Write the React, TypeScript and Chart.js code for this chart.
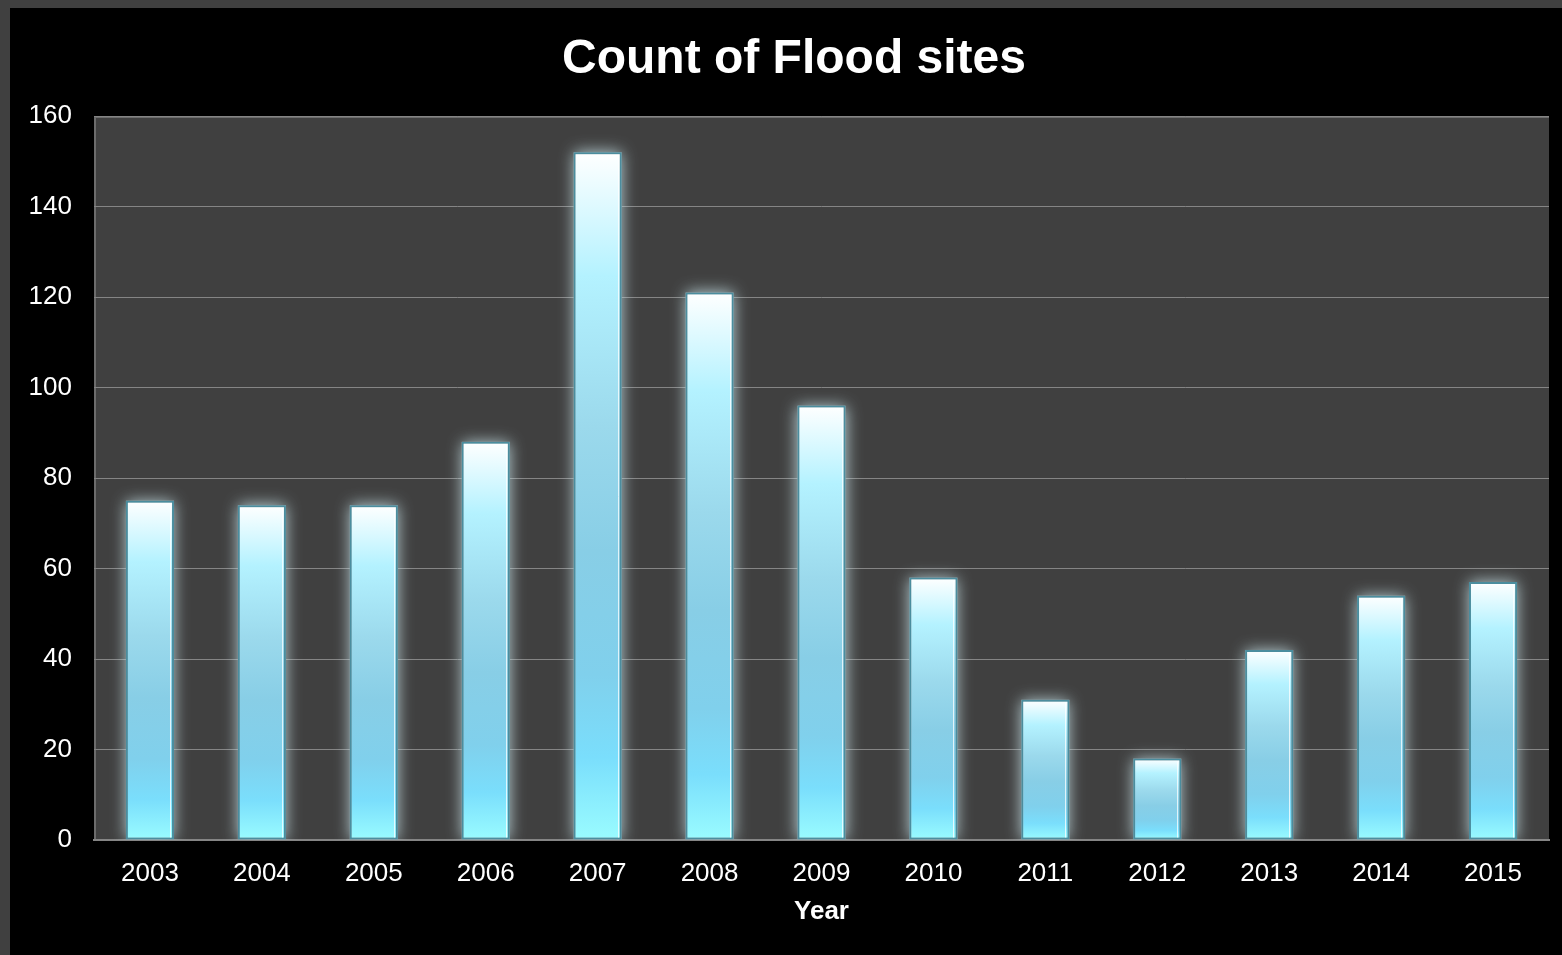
import React, { useEffect, useRef } from "react";
import { Chart, registerables } from "chart.js";

Chart.register(...registerables);

const years = ["2003", "2004", "2005", "2006", "2007", "2008", "2009", "2010", "2011", "2012", "2013", "2014", "2015"];
const floodSiteCounts = [75, 74, 74, 88, 152, 121, 96, 58, 31, 18, 42, 54, 57];
const chartTitle = "Count of Flood sites";
const xAxisTitle = "Year";
const yMin = 0;
const yMax = 160;
const yStep = 20;

const FONT = "'Liberation Sans', Arial, Helvetica, sans-serif";
const FRAME_GREY = "#404040";
const PLOT_BG = "#404040";

// Outer frame, black panel and the dark plot area with its light top/left edges
const backgroundPlugin = {
  id: "panelBackground",
  beforeDraw(chart: any) {
    const { ctx, width, height, chartArea } = chart;
    ctx.save();
    ctx.fillStyle = FRAME_GREY;
    ctx.fillRect(0, 0, width, height);
    ctx.fillStyle = "#000000";
    ctx.fillRect(10, 8, width - 10, height - 8);
    ctx.fillStyle = PLOT_BG;
    ctx.fillRect(chartArea.left, chartArea.top, chartArea.right - chartArea.left, chartArea.bottom - chartArea.top);
    ctx.strokeStyle = "#6c6c6c";
    ctx.lineWidth = 2;
    ctx.beginPath();
    ctx.moveTo(chartArea.left + 1, chartArea.bottom);
    ctx.lineTo(chartArea.left + 1, chartArea.top + 1);
    ctx.lineTo(chartArea.right, chartArea.top + 1);
    ctx.stroke();
    ctx.restore();
  },
};

// Soft halo behind every bar, plus a thin highlight inside each bar's right edge
const barGlowPlugin = {
  id: "barGlow",
  beforeDatasetsDraw(chart: any) {
    const { ctx, chartArea } = chart;
    ctx.save();
    ctx.beginPath();
    ctx.rect(chartArea.left, chartArea.top, chartArea.right - chartArea.left, chartArea.bottom - chartArea.top);
    ctx.clip();
    chart.getSortedVisibleDatasetMetas().forEach((meta: any) => {
      meta.data.forEach((bar: any) => {
        const { x, y, base, width } = bar.getProps(["x", "y", "base", "width"], true);
        ctx.save();
        ctx.shadowColor = "rgba(200, 226, 232, 0.9)";
        ctx.shadowBlur = 15;
        ctx.fillStyle = "rgba(150, 172, 178, 1)";
        ctx.fillRect(x - width / 2, y, width, base - y);
        ctx.restore();
      });
    });
    ctx.restore();
  },
  afterDatasetsDraw(chart: any) {
    const { ctx } = chart;
    ctx.save();
    chart.getSortedVisibleDatasetMetas().forEach((meta: any) => {
      meta.data.forEach((bar: any) => {
        const { x, y, base, width } = bar.getProps(["x", "y", "base", "width"], true);
        const hx = Math.round(x + width / 2 - 4) + 0.5;
        ctx.strokeStyle = "rgba(255, 255, 255, 0.75)";
        ctx.lineWidth = 1;
        ctx.beginPath();
        ctx.moveTo(hx, y + 3);
        ctx.lineTo(hx, base - 2);
        ctx.stroke();
      });
    });
    ctx.restore();
  },
};

// Chart heading, centred above the plot
const headingPlugin = {
  id: "heading",
  afterDraw(chart: any) {
    const { ctx } = chart;
    ctx.save();
    ctx.fillStyle = "#ffffff";
    ctx.font = `bold 48px ${FONT}`;
    ctx.textAlign = "center";
    ctx.textBaseline = "middle";
    ctx.fillText(chartTitle, 794, 60);
    ctx.restore();
  },
};

function barGradient(context: any) {
  const chart = context.chart;
  const area = chart.chartArea;
  if (!area || !chart.scales.y) return "#87cde6";
  const value = floodSiteCounts[context.dataIndex];
  const top = chart.scales.y.getPixelForValue(value);
  const g = chart.ctx.createLinearGradient(0, top, 0, area.bottom);
  g.addColorStop(0, "#ffffff");
  g.addColorStop(0.18, "#b4f2ff");
  g.addColorStop(0.4, "#9bd9ec");
  g.addColorStop(0.58, "#88cee6");
  g.addColorStop(0.76, "#80d0ec");
  g.addColorStop(0.88, "#7adefc");
  g.addColorStop(1, "#9afcff");
  return g;
}

export default function App() {
  const canvasRef = useRef<HTMLCanvasElement | null>(null);

  useEffect(() => {
    if (!canvasRef.current) return;
    const chart = new Chart(canvasRef.current, {
      type: "bar",
      data: {
        labels: years,
        datasets: [
          {
            label: chartTitle,
            data: floodSiteCounts,
            backgroundColor: barGradient,
            borderColor: "#4b8d9e",
            borderWidth: 2,
            borderSkipped: false,
            barPercentage: 0.43,
            categoryPercentage: 1,
          },
        ],
      },
      plugins: [backgroundPlugin, barGlowPlugin, headingPlugin],
      options: {
        responsive: false,
        animation: false,
        devicePixelRatio: 1,
        layout: { padding: { top: 116, left: 10, right: 13, bottom: 0 } },
        plugins: {
          legend: { display: false },
          title: { display: false },
          tooltip: { enabled: false },
        },
        scales: {
          x: {
            grid: { display: false, drawTicks: false },
            border: { display: true, color: "#858585", width: 2 },
            ticks: {
              color: "#ffffff",
              font: { family: FONT, size: 26 },
              padding: 18,
              maxRotation: 0,
            },
            title: {
              display: true,
              text: xAxisTitle,
              color: "#ffffff",
              font: { family: FONT, size: 26, weight: "bold" },
              padding: { top: 4, bottom: 28 },
            },
            afterFit(scale: any) {
              scale.height = 115;
            },
          },
          y: {
            min: yMin,
            max: yMax,
            grid: { color: "#858585", lineWidth: 1, drawTicks: false },
            border: { display: false },
            ticks: {
              stepSize: yStep,
              color: "#ffffff",
              font: { family: FONT, size: 26 },
              padding: 22,
            },
            afterFit(scale: any) {
              scale.width = 84;
            },
          },
        },
      },
    });
    return () => chart.destroy();
  }, []);

  return (
    <div style={{ position: "absolute", left: 0, top: 0, width: 1562, height: 955, overflow: "hidden" }}>
      <canvas ref={canvasRef} width={1562} height={955} style={{ display: "block" }} />
    </div>
  );
}
